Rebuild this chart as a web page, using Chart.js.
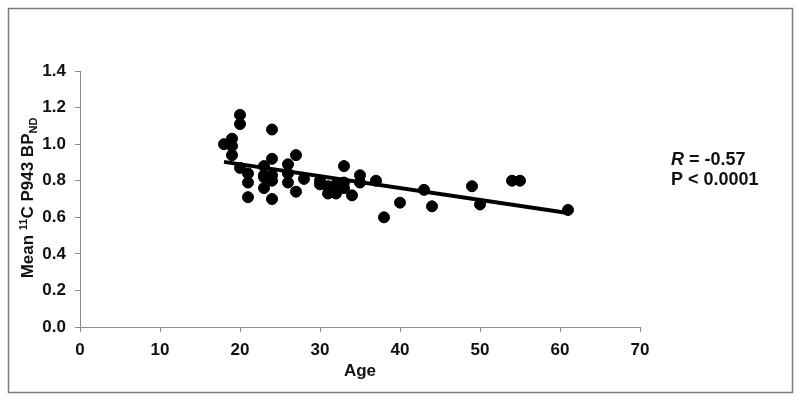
<!DOCTYPE html>
<html>
<head>
<meta charset="utf-8">
<script src="https://cdn.jsdelivr.net/npm/chart.js@4.4.0/dist/chart.umd.min.js"></script>
<style>
  html, body { margin: 0; padding: 0; background: #fff; }
  #wrap { width: 800px; height: 401px; }
</style>
</head>
<body>
<div id="wrap"><canvas id="c" width="800" height="401"></canvas></div>
<script>
// ages and mean 11C P943 BPND per subject
const ages = [18, 19, 19, 19, 20, 20, 20, 21, 21, 21, 23, 23, 23, 23, 24, 24, 24, 24, 24,
    26, 26, 26, 27, 27, 28, 30, 30, 31, 31, 32, 32, 32, 33, 33, 33, 34, 35, 35, 37,
    38, 40, 43, 44, 49, 50, 54, 55, 61];
const bpnd = [1.00, 1.03, 0.99, 0.94, 1.16, 1.11, 0.87, 0.84, 0.79, 0.71, 0.88, 0.83, 0.82, 0.76,
    1.08, 0.92, 0.83, 0.80, 0.70, 0.89, 0.84, 0.79, 0.94, 0.74, 0.81, 0.80, 0.78, 0.77,
    0.73, 0.73, 0.76, 0.78, 0.88, 0.79, 0.76, 0.72, 0.83, 0.79, 0.80, 0.60, 0.68, 0.75,
    0.66, 0.77, 0.67, 0.80, 0.80, 0.64];

// regression line end points
const fitX = [18, 61];
const fitY = [0.903, 0.624];

const xTicks = [0, 10, 20, 30, 40, 50, 60, 70];
const yTicks = [0.0, 0.2, 0.4, 0.6, 0.8, 1.0, 1.2, 1.4];

const statR = '-0.57';
const statP = 'P < 0.0001';

const FONT = '"Liberation Sans", Arial, sans-serif';
const axisGray = '#8c8c8c';

const points = ages.map((a, i) => ({ x: a, y: bpnd[i] }));
const fitLine = fitX.map((a, i) => ({ x: a, y: fitY[i] }));

// outer frame, y title with sub/superscript, stats text
const extras = {
    id: 'extras',
    beforeDraw(chart) {
        const ctx = chart.ctx;
        ctx.save();
        ctx.strokeStyle = '#7a7a7a';
        ctx.lineWidth = 1.5;
        ctx.strokeRect(8.5, 8.5, 784, 384);
        ctx.restore();
    },
    afterDraw(chart) {
        const ctx = chart.ctx;
        ctx.save();
        ctx.fillStyle = '#111';

        // y axis title
        const parts = [
            { t: 'Mean ', size: 17, dy: 0 },
            { t: '11', size: 11, dy: -6 },
            { t: 'C P943 BP', size: 17, dy: 0 },
            { t: 'ND', size: 11, dy: 4 }
        ];
        let total = 0;
        parts.forEach(p => {
            ctx.font = 'bold ' + p.size + 'px ' + FONT;
            p.w = ctx.measureText(p.t).width;
            total += p.w;
        });
        ctx.translate(33, 198);
        ctx.rotate(-Math.PI / 2);
        ctx.textBaseline = 'alphabetic';
        let x = -total / 2;
        parts.forEach(p => {
            ctx.font = 'bold ' + p.size + 'px ' + FONT;
            ctx.fillText(p.t, x, p.dy);
            x += p.w;
        });
        ctx.setTransform(1, 0, 0, 1, 0, 0);

        // stats
        ctx.font = 'italic bold 18px ' + FONT;
        ctx.fillText('R', 671, 165);
        const rw = ctx.measureText('R').width;
        ctx.font = 'bold 18px ' + FONT;
        ctx.fillText(' = ' + statR, 671 + rw, 165);
        ctx.fillText(statP, 671, 185);
        ctx.restore();
    }
};

new Chart(document.getElementById('c'), {
    type: 'scatter',
    data: {
        datasets: [{
            label: 'BPND',
            data: points,
            backgroundColor: '#000',
            borderColor: '#000',
            pointRadius: 5.5,
            pointHoverRadius: 5.5
        }, {
            type: 'line',
            label: 'fit',
            data: fitLine,
            borderColor: '#000',
            borderWidth: 4,
            pointRadius: 0,
            fill: false
        }]
    },
    options: {
        responsive: false,
        animation: false,
        layout: { padding: { top: 71, right: 160, bottom: 19, left: 0 } },
        plugins: {
            legend: { display: false },
            tooltip: { enabled: false }
        },
        scales: {
            x: {
                type: 'linear',
                min: 0,
                max: 70,
                afterBuildTicks: s => { s.ticks = xTicks.map(v => ({ value: v })); },
                afterFit: s => { s.height = 55; },
                grid: { display: true, drawOnChartArea: false, tickLength: 5, color: axisGray },
                border: { color: axisGray, width: 1 },
                ticks: { color: '#111', font: { family: FONT, size: 17, weight: 'bold' }, padding: 8 },
                title: {
                    display: true,
                    text: 'Age',
                    color: '#111',
                    font: { family: FONT, size: 17, weight: 'bold' },
                    padding: { top: 2, bottom: 0 }
                }
            },
            y: {
                min: 0,
                max: 1.4,
                afterBuildTicks: s => { s.ticks = yTicks.map(v => ({ value: v })); },
                afterFit: s => { s.width = 80; },
                grid: { display: true, drawOnChartArea: false, tickLength: 5, color: axisGray },
                border: { color: axisGray, width: 1 },
                ticks: {
                    color: '#111',
                    font: { family: FONT, size: 17, weight: 'bold' },
                    padding: 9,
                    callback: v => v.toFixed(1)
                }
            }
        }
    },
    plugins: [extras]
});
</script>
</body>
</html>
